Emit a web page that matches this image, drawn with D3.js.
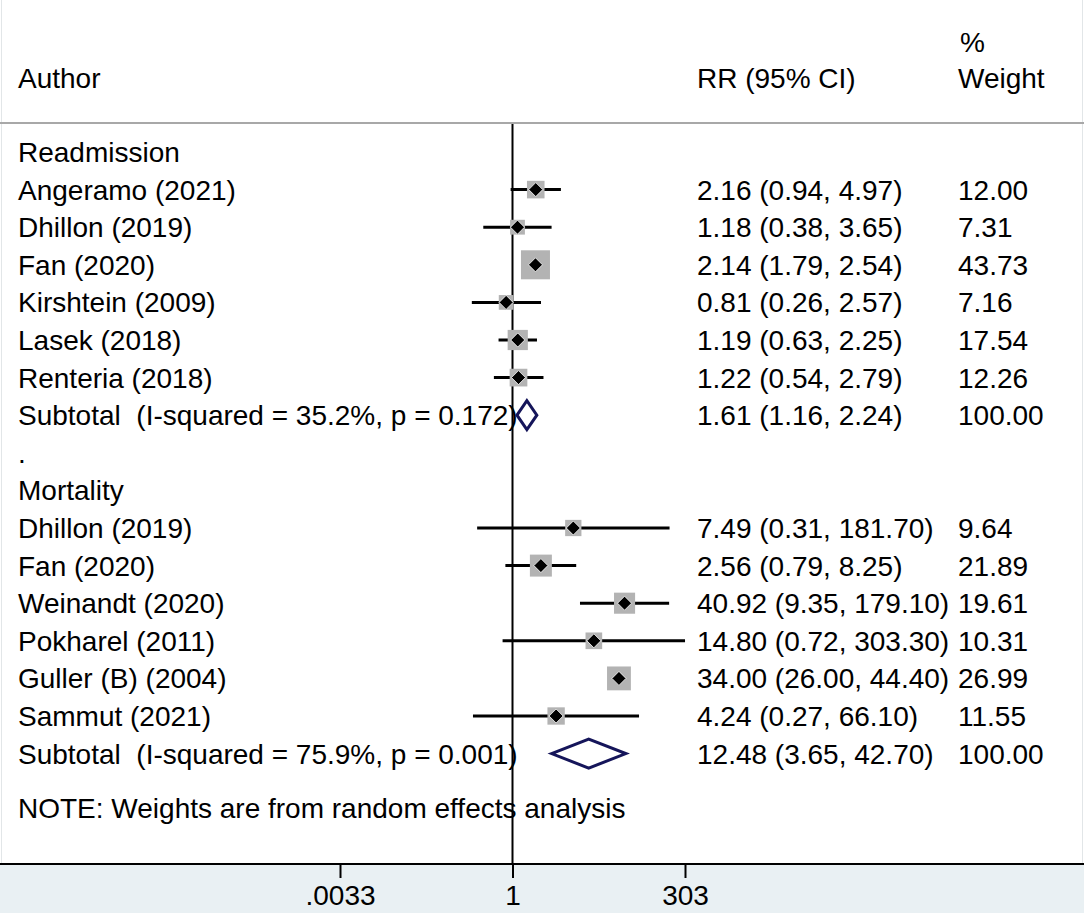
<!DOCTYPE html>
<meta charset="utf-8">
<script src="https://cdn.jsdelivr.net/npm/d3@7"></script>
<style>
  body { margin: 0; background: #fff; }
  text { font-family: "Liberation Sans", Arial, sans-serif; font-size: 28px; fill: #000; white-space: pre; }
</style>
<body></body>
<script>

    // Readmission subgroup
    var readAuthors = ["Angeramo (2021)", "Dhillon (2019)", "Fan (2020)", "Kirshtein (2009)", "Lasek (2018)", "Renteria (2018)"];
    var readRR = [2.16, 1.18, 2.14, 0.81, 1.19, 1.22];
    var readLo = [0.94, 0.38, 1.79, 0.26, 0.63, 0.54];
    var readHi = [4.97, 3.65, 2.54, 2.57, 2.25, 2.79];
    var readW  = [12.00, 7.31, 43.73, 7.16, 17.54, 12.26];
    var readSub = [1.61, 1.16, 2.24];
    var readHet = "(I-squared = 35.2%, p = 0.172)";

    // Mortality subgroup
    var mortAuthors = ["Dhillon (2019)", "Fan (2020)", "Weinandt (2020)", "Pokharel (2011)", "Guller (B) (2004)", "Sammut (2021)"];
    var mortRR = [7.49, 2.56, 40.92, 14.80, 34.00, 4.24];
    var mortLo = [0.31, 0.79, 9.35, 0.72, 26.00, 0.27];
    var mortHi = [181.70, 8.25, 179.10, 303.30, 44.40, 66.10];
    var mortW  = [9.64, 21.89, 19.61, 10.31, 26.99, 11.55];
    var mortSub = [12.48, 3.65, 42.70];
    var mortHet = "(I-squared = 75.9%, p = 0.001)";

    var tickValues = [1 / 303, 1, 303];
    var tickLabels = [".0033", "1", "303"];

    var width = 1084,
        height = 913,
        axisY = 864;

    var fmt = d3.format(".2f");

    // build the row list
    var rows = [];
    function addGroup(name, authors, rr, lo, hi, w, sub, het) {
      rows.push({type: "head", label: name});
      authors.forEach(function(a, i) {
        rows.push({type: "study", label: a, rr: rr[i], lo: lo[i], hi: hi[i], w: w[i]});
      });
      rows.push({type: "sub", label: "Subtotal  " + het, rr: sub[0], lo: sub[1], hi: sub[2], w: 100});
    }
    addGroup("Readmission", readAuthors, readRR, readLo, readHi, readW, readSub, readHet);
    rows.push({type: "head", label: "."});
    addGroup("Mortality", mortAuthors, mortRR, mortLo, mortHi, mortW, mortSub, mortHet);

    var x = d3.scaleLog()
        .domain([1 / 303, 303])
        .range([340, 685]);

    var y = d3.scalePoint()
        .domain(d3.range(rows.length))
        .range([152, 753.6]);

    var allW = readW.concat(mortW);
    var box = d3.scaleSqrt()
        .domain([0, d3.max(allW)])
        .range([0, 24]);

    var svg = d3.select("body").append("svg")
        .attr("width", width)
        .attr("height", height);

    svg.append("rect")
        .attr("x", 0).attr("y", axisY)
        .attr("width", width).attr("height", height - axisY)
        .attr("fill", "#e9f0f3");

    svg.append("rect")
        .attr("x", 1.5).attr("y", -2)
        .attr("width", width - 3).attr("height", axisY + 2)
        .attr("fill", "none")
        .attr("stroke", "#e2e6e8");

    // header
    svg.append("text").attr("x", 18).attr("y", 88).text("Author");
    svg.append("text").attr("x", 697).attr("y", 88).text("RR (95% CI)");
    svg.append("text").attr("x", 960).attr("y", 52).text("%");
    svg.append("text").attr("x", 958).attr("y", 88).text("Weight");

    svg.append("line")
        .attr("x1", 0).attr("x2", width)
        .attr("y1", 123).attr("y2", 123)
        .attr("stroke", "#a8a8a8")
        .attr("stroke-width", 2);

    // null line
    svg.append("line")
        .attr("x1", x(1)).attr("x2", x(1))
        .attr("y1", 124).attr("y2", axisY)
        .attr("stroke", "#000")
        .attr("stroke-width", 2);

    var row = svg.selectAll(".row")
        .data(rows)
      .enter().append("g")
        .attr("class", "row")
        .attr("transform", function(d, i) { return "translate(0," + y(i) + ")"; });

    row.append("text")
        .attr("x", 18)
        .attr("y", 10)
        .text(function(d) { return d.label; });

    var stat = row.filter(function(d) { return d.type != "head"; });

    stat.append("text")
        .attr("x", 697)
        .attr("y", 10)
        .text(function(d) { return fmt(d.rr) + " (" + fmt(d.lo) + ", " + fmt(d.hi) + ")"; });

    stat.append("text")
        .attr("x", 958)
        .attr("y", 10)
        .text(function(d) { return fmt(d.w); });

    var study = row.filter(function(d) { return d.type == "study"; });

    study.append("line")
        .attr("x1", function(d) { return x(d.lo); })
        .attr("x2", function(d) { return x(d.hi); })
        .attr("stroke", "#000")
        .attr("stroke-width", 3);

    study.append("rect")
        .attr("x", function(d) { return x(d.rr) - (5 + box(d.w)) / 2; })
        .attr("y", function(d) { return -(5 + box(d.w)) / 2; })
        .attr("width", function(d) { return 5 + box(d.w); })
        .attr("height", function(d) { return 5 + box(d.w); })
        .attr("fill", "#b3b3b3");

    study.append("path")
        .attr("d", function(d) {
          var cx = x(d.rr);
          return "M" + (cx - 7) + ",0L" + cx + ",-7L" + (cx + 7) + ",0L" + cx + ",7Z";
        })
        .attr("fill", "#000")
        .attr("stroke", "#fff")
        .attr("stroke-width", 0.8);

    row.filter(function(d) { return d.type == "sub"; })
      .append("path")
        .attr("d", function(d) {
          return "M" + x(d.lo) + ",0L" + x(d.rr) + ",-14.5L" + x(d.hi) + ",0L" + x(d.rr) + ",14.5Z";
        })
        .attr("fill", "#fff")
        .attr("stroke", "#15155a")
        .attr("stroke-width", 3);

    svg.append("text")
        .attr("x", 18)
        .attr("y", 818)
        .text("NOTE: Weights are from random effects analysis");

    // x axis
    svg.append("line")
        .attr("x1", 0).attr("x2", width)
        .attr("y1", axisY).attr("y2", axisY)
        .attr("stroke", "#000")
        .attr("stroke-width", 2);

    var axis = svg.append("g")
        .attr("transform", "translate(0," + axisY + ")")
        .call(d3.axisBottom(x)
            .tickValues(tickValues)
            .tickFormat(function(d, i) { return tickLabels[i]; })
            .tickSize(14));

    axis.select(".domain").remove();
    axis.selectAll(".tick line").attr("stroke", "#000").attr("stroke-width", 2);
    axis.selectAll(".tick text")
        .attr("y", 41)
        .attr("dy", null)
        .style("font-family", "'Liberation Sans', Arial, sans-serif")
        .style("font-size", "28px")
        .attr("fill", "#000");
</script>
